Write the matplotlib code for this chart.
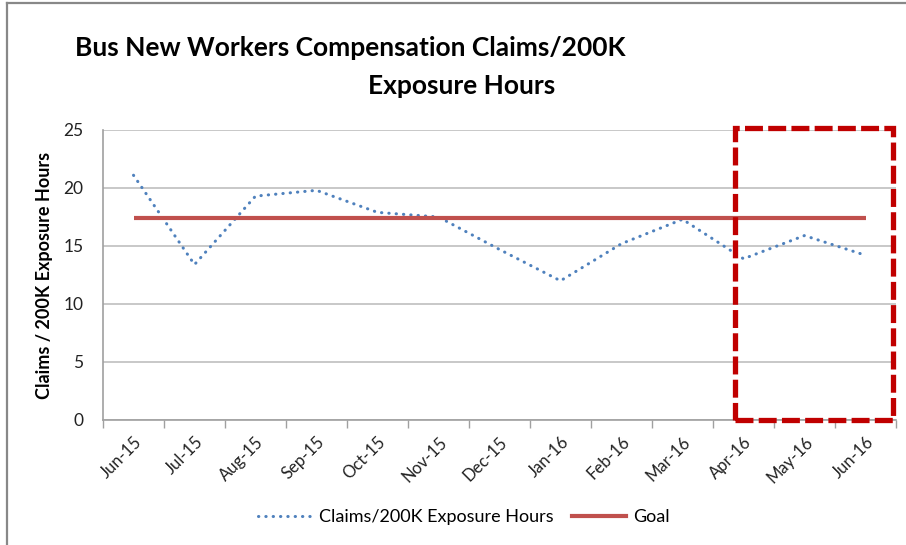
import matplotlib
matplotlib.use("Agg")
import matplotlib.pyplot as plt
from matplotlib.patches import Rectangle
from matplotlib.lines import Line2D

months = ["Jun-15", "Jul-15", "Aug-15", "Sep-15", "Oct-15", "Nov-15", "Dec-15",
          "Jan-16", "Feb-16", "Mar-16", "Apr-16", "May-16", "Jun-16"]
claims = [21.1, 13.4, 19.3, 19.8, 17.9, 17.5, 14.7, 12.0, 15.2, 17.3, 13.9, 15.9, 14.2]
goal = [17.45] * len(months)

plt.rcParams['font.family'] = ['Lato', 'DejaVu Sans']

BLUE = "#4f81bd"
RED = "#c0504d"
dotted = (0, (0.1, 2.3))

fig = plt.figure(figsize=(9.06, 5.45), dpi=100)
ax = fig.add_axes([103 / 906, 1 - 420 / 545, 793 / 906, 290 / 545])

x = list(range(len(months)))
ax.plot(x, claims, color=BLUE, lw=2.2, linestyle=dotted,
        dash_capstyle="round", label="Claims/200K Exposure Hours")
ax.plot(x, goal, color=RED, lw=3.0, solid_capstyle="butt", label="Goal")

ax.set_xlim(-0.5, len(months) - 0.5)
ax.set_ylim(0, 25)
ax.set_yticks([0, 5, 10, 15, 20, 25])
ax.tick_params(axis="y", length=0, labelsize=12.5, pad=14, colors="#222222")
ax.set_xticks([i - 0.5 for i in range(len(months) + 1)])
ax.set_xticklabels([])
ax.set_xticks(x, minor=True)
ax.set_xticklabels(months, minor=True, rotation=45, ha="right", va="top",
                   rotation_mode="anchor", fontsize=12)
ax.tick_params(axis="x", which="major", length=6, color="#a0a0a0", width=1)
ax.tick_params(axis="x", which="minor", length=0, pad=10, colors="#222222")

ax.grid(axis="y", color="#bfbfbf", lw=1.2)
ax.set_axisbelow(True)
for s in ["top", "right"]:
    ax.spines[s].set_visible(False)
for s in ["left", "bottom"]:
    ax.spines[s].set_color("#a0a0a0")
    ax.spines[s].set_linewidth(1.2)

ax.set_ylabel("Claims / 200K Exposure Hours", fontsize=13, fontweight="bold")
ax.yaxis.set_label_coords(-50 / 793, 0.5)

# highlight box around the last quarter
box = Rectangle((9.86, 0), 12.45 - 9.86, 25.17, fill=False, edgecolor="#c00000",
                lw=3.8, linestyle=(0, (3.4, 1.0)), clip_on=False, zorder=5)
ax.add_patch(box)

fig.text(350 / 906, 1 - 56 / 545, "Bus New Workers Compensation Claims/200K",
         ha="center", va="baseline", fontsize=19, fontweight="bold")
fig.text(462 / 906, 1 - 94 / 545, "Exposure Hours",
         ha="center", va="baseline", fontsize=19, fontweight="bold")

handles = [Line2D([], [], color=BLUE, lw=2.2, linestyle=dotted, dash_capstyle="round"),
           Line2D([], [], color=RED, lw=3.0)]
fig.legend(handles, ["Claims/200K Exposure Hours", "Goal"], loc="center",
           bbox_to_anchor=(464 / 906, 1 - 517 / 545), ncol=2, frameon=False,
           fontsize=13, handlelength=3.0, columnspacing=1.0, handletextpad=0.4)

# chart frame (left and top edges)
fig.add_artist(Line2D([7 / 906, 7 / 906], [0, 1 - 3 / 545], color="#888888", lw=1.6,
                      transform=fig.transFigure))
fig.add_artist(Line2D([7 / 906, 1], [1 - 3 / 545, 1 - 3 / 545], color="#888888", lw=1.6,
                      transform=fig.transFigure))

fig.savefig("out.png", dpi=100)
